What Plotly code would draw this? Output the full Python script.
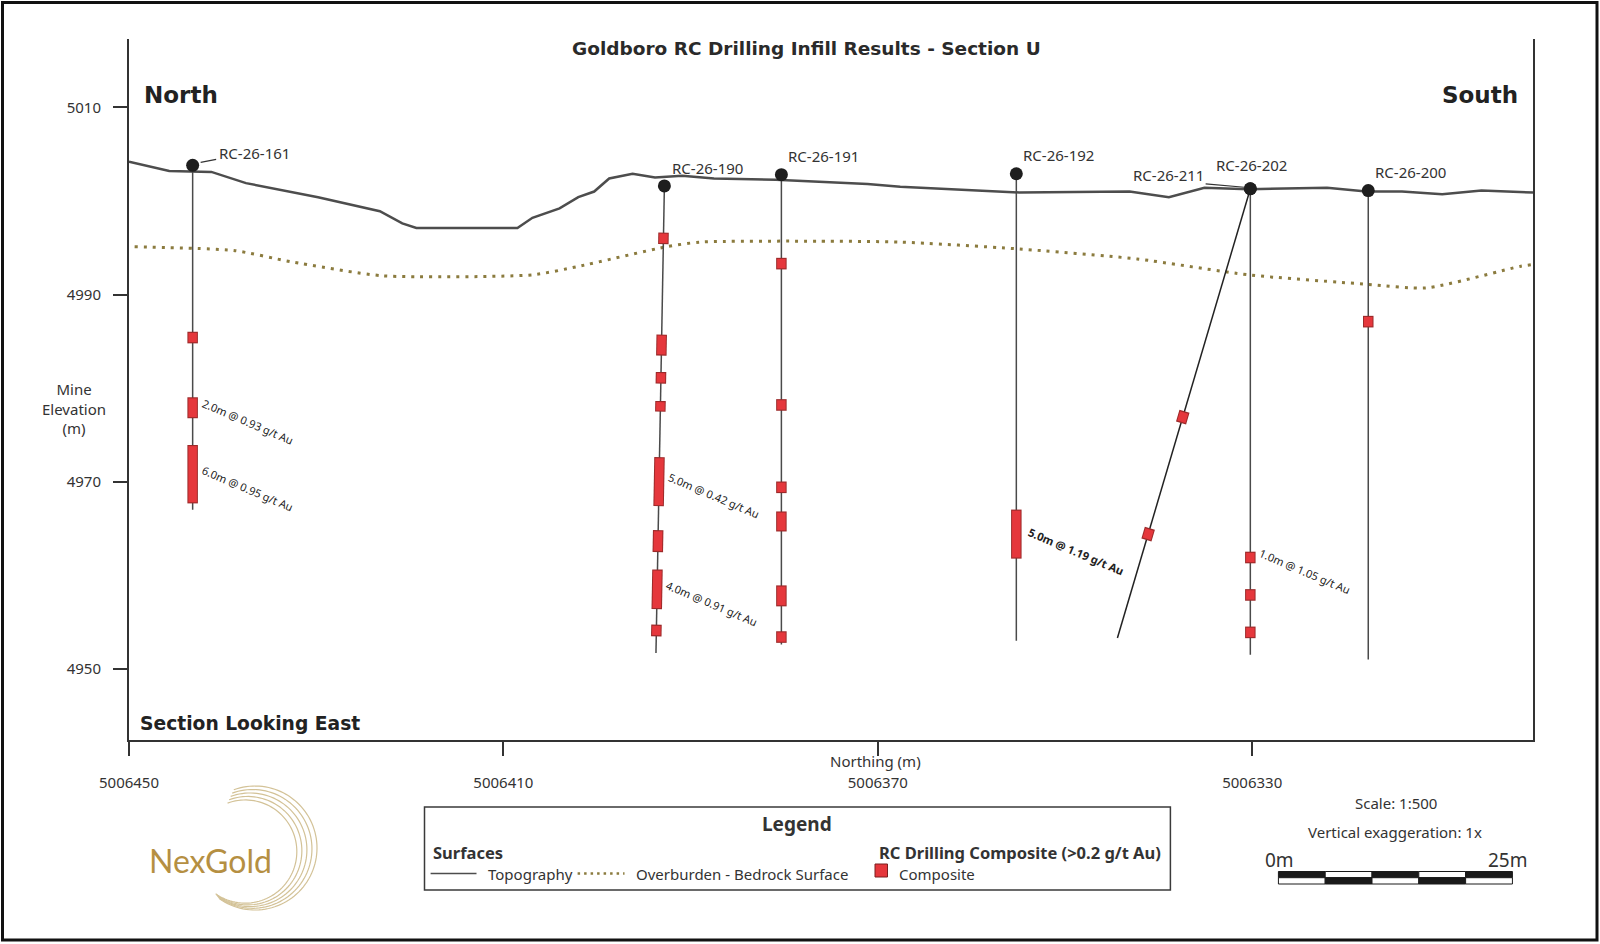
import numpy as np
import plotly.graph_objects as go

# ground surfaces along the section (northing, elevation)
topo_n = [5006450.0, 5006445.7, 5006441.2, 5006437.5, 5006429.8, 5006423.2, 5006420.8, 5006419.3,
          5006408.5, 5006406.9, 5006404.0, 5006402.0, 5006400.3, 5006398.7, 5006396.2, 5006393.8,
          5006390.9, 5006387.5, 5006380.9, 5006371.1, 5006367.6, 5006354.9, 5006343.1, 5006338.9,
          5006335.1, 5006330.4, 5006322.0, 5006317.8, 5006314.0, 5006309.7, 5006305.5, 5006301.4,
          5006300.0]
topo_z = [5004.2, 5003.2, 5003.1, 5001.9, 5000.4, 4998.9, 4997.6, 4997.1,
          4997.1, 4998.2, 4999.2, 5000.4, 5001.0, 5002.4, 5002.9, 5002.5,
          5002.7, 5002.4, 5002.25, 5001.8, 5001.5, 5000.9, 5001.0, 5000.4,
          5001.4, 5001.25, 5001.4, 5001.0, 5001.0, 5000.7, 5001.1, 5000.9,
          5000.9]

ob_n = [5006449.4, 5006438.8, 5006432.7, 5006422.9, 5006406.9, 5006402.0, 5006392.6, 5006389.0,
        5006376.5, 5006367.6, 5006355.4, 5006342.3, 5006330.4, 5006317.8, 5006311.4, 5006301.4,
        5006300.0]
ob_z = [4995.1, 4994.7, 4993.5, 4992.0, 4992.1, 4993.0, 4995.1, 4995.6,
        4995.7, 4995.6, 4994.9, 4993.8, 4992.1, 4991.1, 4990.7, 4993.0,
        4993.2]

# drill holes: collar and toe
hole_ids = ["RC-26-161", "RC-26-190", "RC-26-191", "RC-26-192", "RC-26-211", "RC-26-202", "RC-26-200"]
collar_n = [5006443.2, 5006392.8, 5006380.3, 5006355.2, 5006330.2, 5006330.2, 5006317.6]
collar_z = [5003.8, 5001.6, 5002.8, 5002.9, 5001.3, 5001.3, 5001.1]
toe_n = [5006443.2, 5006393.7, 5006380.3, 5006355.2, 5006344.4, 5006330.2, 5006317.6]
toe_z = [4967.0, 4951.7, 4952.6, 4953.0, 4953.3, 4951.5, 4951.0]

# composites > 0.2 g/t Au (top / bottom elevation)
comp_hole = (["RC-26-161"] * 3 + ["RC-26-190"] * 8 + ["RC-26-191"] * 6 + ["RC-26-192"]
             + ["RC-26-211"] * 2 + ["RC-26-202"] * 3 + ["RC-26-200"])
comp_top = [4985.9, 4978.9, 4973.8,
            4996.5, 4985.6, 4981.6, 4978.5, 4972.5, 4964.7, 4960.5, 4954.6,
            4993.8, 4978.7, 4969.9, 4966.7, 4958.8, 4953.9,
            4966.9,
            4977.4, 4964.9,
            4962.4, 4958.4, 4954.4,
            4987.6]
comp_bot = [4984.9, 4976.9, 4967.8,
            4995.5, 4983.6, 4980.6, 4977.6, 4967.5, 4962.6, 4956.5, 4953.6,
            4992.8, 4977.7, 4968.9, 4964.8, 4956.8, 4952.9,
            4961.9,
            4976.4, 4963.9,
            4961.4, 4957.4, 4953.4,
            4986.6]

# labelled intercepts
int_hole = ["RC-26-161", "RC-26-161", "RC-26-190", "RC-26-190", "RC-26-192", "RC-26-202"]
int_top = [4978.9, 4973.8, 4972.5, 4960.5, 4966.9, 4962.4]
int_bot = [4976.9, 4967.8, 4967.5, 4956.5, 4961.9, 4961.4]
int_text = ["2.0m @ 0.93 g/t Au", "6.0m @ 0.95 g/t Au", "5.0m @ 0.42 g/t Au",
            "4.0m @ 0.91 g/t Au", "5.0m @ 1.19 g/t Au", "1.0m @ 1.05 g/t Au"]
int_bold = [False, False, False, False, True, False]

# scale bar (metres)
scale_marks = [0, 5, 10, 15, 20, 25]
scale_origin_n = 5006327.2

W, H = 1600, 944
ML, MR, MT, MB = 129, 67, 39, 204
PW, PH = W - ML - MR, H - MT - MB
TXT = "#333333"
RED = "#e5373c"


def px(x):
    return (x - ML) / PW


def py(y):
    return 1 - (y - MT) / PH


def along(h, z):
    i = hole_ids.index(h)
    f = (collar_z[i] - z) / (collar_z[i] - toe_z[i])
    return collar_n[i] + f * (toe_n[i] - collar_n[i])


fig = go.Figure()

fig.add_trace(go.Scatter(x=topo_n, y=topo_z, mode="lines",
                         line=dict(color="#4d4d4d", width=2.5), hoverinfo="skip"))
fig.add_trace(go.Scatter(x=ob_n, y=ob_z, mode="lines",
                         line=dict(color="#8b7b3e", width=3, dash="3px,6px", shape="spline", smoothing=0.6),
                         hoverinfo="skip"))

for i, h in enumerate(hole_ids):
    fig.add_trace(go.Scatter(x=[collar_n[i], toe_n[i]], y=[collar_z[i], toe_z[i]], mode="lines",
                             line=dict(color="#222222" if h == "RC-26-211" else "#4a4a4a", width=1.5),
                             hoverinfo="skip"))

# composites as thick segments along the hole trace
ox, oy, fx, fy = [], [], [], []
for h, t, b in zip(comp_hole, comp_top, comp_bot):
    ox += [along(h, t + 0.12), along(h, b - 0.12), None]
    oy += [t + 0.12, b - 0.12, None]
    fx += [along(h, t), along(h, b), None]
    fy += [t, b, None]
fig.add_trace(go.Scatter(x=ox, y=oy, mode="lines", line=dict(color="#9c2a2a", width=10.5), hoverinfo="skip"))
fig.add_trace(go.Scatter(x=fx, y=fy, mode="lines", line=dict(color=RED, width=8.5), hoverinfo="skip"))

fig.add_trace(go.Scatter(x=collar_n, y=collar_z, mode="markers", text=hole_ids,
                         marker=dict(color="#1e1e1e", size=13), hoverinfo="text"))

ann = []
shapes = []

# hole labels (pixel offsets from collar)
lbl_off = {"RC-26-161": (24.5, 12, "left"), "RC-26-190": (6, 18.4, "left"),
           "RC-26-191": (5, 18.4, "left"), "RC-26-192": (5, 18.3, "left"),
           "RC-26-211": (-44, 13.3, "right"), "RC-26-202": (-36.7, 23.5, "left"),
           "RC-26-200": (5, 18.4, "left")}
for i, h in enumerate(hole_ids):
    dx, dy, anc = lbl_off[h]
    ann.append(dict(x=collar_n[i], y=collar_z[i], xref="x", yref="y", text=h, showarrow=False,
                    xanchor=anc, yanchor="middle", xshift=dx, yshift=dy,
                    font=dict(family="Noto Sans", size=15, color=TXT)))

# leader lines
for h, (a, b, c, d) in {"RC-26-161": (8, 3, 23.5, 6), "RC-26-211": (-44.7, 4.8, -6, 1.5)}.items():
    i = hole_ids.index(h)
    shapes.append(dict(type="line", xref="x", yref="y", xsizemode="pixel", ysizemode="pixel",
                       xanchor=collar_n[i], yanchor=collar_z[i], x0=a, y0=b, x1=c, y1=d,
                       line=dict(color="#333333", width=1.2)))

# intercept labels
for h, t, b, txt, bold in zip(int_hole, int_top, int_bot, int_text, int_bold):
    zm = (t + b) / 2
    ann.append(dict(x=along(h, zm), y=zm, xref="x", yref="y",
                    text=f"<b>{txt}</b>" if bold else txt, showarrow=False,
                    xanchor="center", yanchor="middle", textangle=23,
                    xshift=60 if bold else 55, yshift=-17 if bold else -14,
                    font=dict(family="Noto Sans", size=11.2 if bold else 11, color="#222222")))


def text(x, y, s, size=15, anchor="center", family="Noto Sans", color=TXT):
    ann.append(dict(x=px(x), y=py(y), xref="paper", yref="paper", text=s, showarrow=False,
                    xanchor=anchor, yanchor="middle", font=dict(family=family, size=size, color=color)))


text(806, 48, "<b>Goldboro RC Drilling Infill Results - Section U</b>", 18.5, family="DejaVu Sans", color="#2a2a2a")
text(142, 95, "<b>North</b>", 23, "left", "DejaVu Sans", "#222222")
text(1520, 95, "<b>South</b>", 23, "right", "DejaVu Sans", "#222222")
text(138, 723, "<b>Section Looking East</b>", 18.7, "left", "DejaVu Sans", "#222222")
text(74, 409, "Mine<br>Elevation<br>(m)", 15)
text(875.5, 761, "Northing (m)", 15)

# legend box
shapes.append(dict(type="rect", xref="paper", yref="paper", x0=px(424.5), x1=px(1170.4),
                   y0=py(807), y1=py(890), line=dict(color="#3a3a3a", width=1.5)))
text(797, 823.5, "<b>Legend</b>", 19)
text(430.6, 852, "<b>Surfaces</b>", 16.5, "left")
text(876.5, 852, "<b>RC Drilling Composite (&gt;0.2 g/t Au)</b>", 16.5, "left")
shapes.append(dict(type="line", xref="paper", yref="paper", x0=px(430.6), x1=px(476.5),
                   y0=py(873.5), y1=py(873.5), line=dict(color="#4d4d4d", width=1.5)))
text(485.7, 874, "Topography", 15, "left")
shapes.append(dict(type="line", xref="paper", yref="paper", x0=px(577.6), x1=px(624.5),
                   y0=py(873.5), y1=py(873.5), line=dict(color="#8b7b3e", width=2.5, dash="2.5px,4px")))
text(633.7, 874, "Overburden - Bedrock Surface", 15, "left")
shapes.append(dict(type="rect", xref="paper", yref="paper", x0=px(875), x1=px(887.5),
                   y0=py(864), y1=py(877), fillcolor=RED, line=dict(color="#7a1f1f", width=1)))
text(897, 874, "Composite", 15, "left")

# scale block
text(1395.5, 803, "Scale: 1:500", 15)
text(1395.3, 831.5, "Vertical exaggeration: 1x", 15)
text(1263, 860, f"{scale_marks[0]}m", 19, "left")
text(1530, 860, f"{scale_marks[-1]}m", 19, "right")
for k in range(len(scale_marks) - 1):
    a = scale_origin_n - scale_marks[k]
    b = scale_origin_n - scale_marks[k + 1]
    for row, (y0, y1) in enumerate([(871.5, 877.7), (877.7, 884)]):
        dark = (k + row) % 2 == 0
        shapes.append(dict(type="rect", xref="x", yref="paper", x0=a, x1=b, y0=py(y0), y1=py(y1),
                           fillcolor="#1a1a1a" if dark else "white", line=dict(color="#1a1a1a", width=1)))

# logo
th = np.radians(np.linspace(110, -125, 80))
u = (np.cos(np.radians(200)), -np.sin(np.radians(200)))
for k in range(5):
    r = 62 - 2.6 * k
    cx, cy = 255 + (62 - r) * u[0], 848 + (62 - r) * u[1]
    xs = cx + r * np.cos(th)
    ys = cy - r * np.sin(th)
    path = "M " + " L ".join(f"{px(a):.5f},{py(b):.5f}" for a, b in zip(xs, ys))
    shapes.append(dict(type="path", xref="paper", yref="paper", path=path,
                       line=dict(color="#d3c297", width=1.2)))
text(210, 860, "NexGold", 32, family="Lato", color="#b58f42")

# outer frame
shapes.append(dict(type="rect", xref="paper", yref="paper", x0=px(2.5), x1=px(1597),
                   y0=py(2.5), y1=py(940), line=dict(color="#111111", width=3)))

axis_common = dict(showline=True, linecolor="#333333", linewidth=2, ticks="outside", ticklen=14,
                   tickwidth=2, tickcolor="#333333", showgrid=False, zeroline=False,
                   tickformat="d", tickfont=dict(family="Noto Sans", size=15, color=TXT))

fig.update_layout(
    width=W, height=H,
    margin=dict(l=ML, r=MR, t=MT, b=MB),
    plot_bgcolor="white", paper_bgcolor="white",
    showlegend=False,
    xaxis=dict(range=[5006450, 5006300], tickmode="linear", tick0=5006330, dtick=40,
               ticklabelstandoff=14, **axis_common),
    yaxis=dict(range=[4942.4, 5017.3], tickmode="linear", tick0=4950, dtick=20,
               mirror=True, ticklabelstandoff=9, **axis_common),
    annotations=ann,
    shapes=shapes,
)

# page body has a default 8px margin; drop it so the figure fills the window
fig.write_html("out.html", config={"displayModeBar": False},
               post_script="document.body.style.margin='0px';")
